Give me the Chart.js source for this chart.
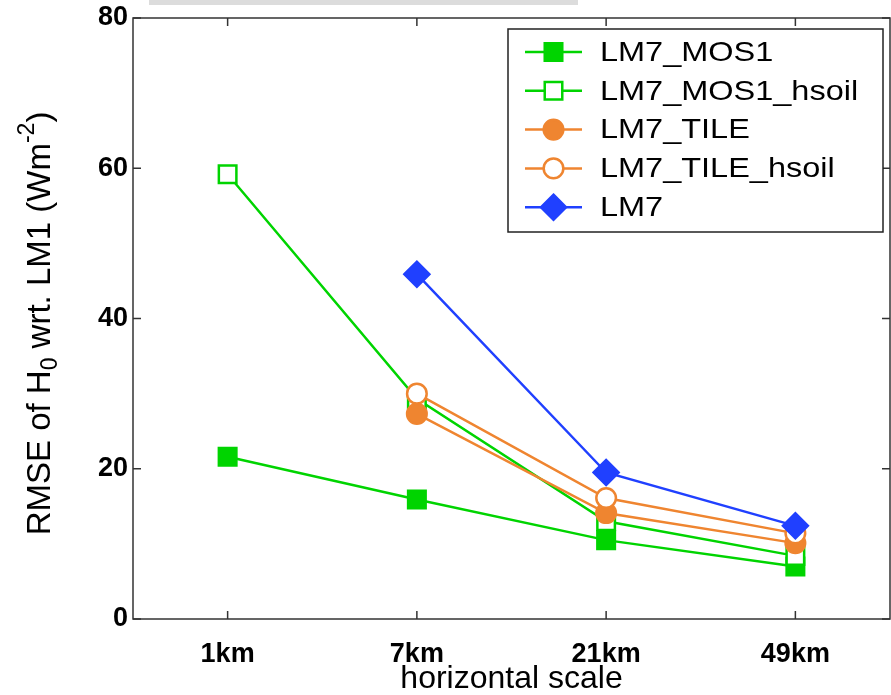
<!DOCTYPE html>
<html>
<head>
<meta charset="utf-8">
<script src="https://cdn.jsdelivr.net/npm/chart.js@4.4.1/dist/chart.umd.min.js"></script>
<style>
  body { margin: 0; background: #fff; }
  #wrap { position: relative; width: 891px; height: 695px; }
  #strip { position: absolute; left: 149px; top: 0; width: 429px; height: 5px; background: #dcdcdc; }
</style>
</head>
<body>
<div id="wrap">
  <canvas id="rmseChart" width="891" height="695"></canvas>
  <div id="strip"></div>
</div>
<script>
// RMSE of H0 wrt. LM1 per horizontal scale
const scales = ['1km', '7km', '21km', '49km'];
const mos1 = [21.6, 15.9, 10.5, 7.0];
const mos1Hsoil = [59.2, 29.3, 13.0, 8.4];
const tile = [null, 27.3, 14.1, 10.1];
const tileHsoil = [null, 30.0, 16.1, 11.4];
const lm7 = [null, 45.9, 19.5, 12.4];
const yTicks = [0, 20, 40, 60, 80];

const FONT = '"Liberation Sans", Arial, Helvetica, sans-serif';
const GREEN = '#00d400';
const ORANGE = '#ef8530';
const BLUE = '#2040ff';

function marker(ctx, style, x, y, r, fill, stroke, lw) {
  ctx.save();
  ctx.beginPath();
  if (style === 'rect') {
    const h = r * Math.SQRT1_2;
    ctx.rect(x - h, y - h, 2 * h, 2 * h);
  } else if (style === 'rectRot') {
    ctx.moveTo(x, y - r); ctx.lineTo(x + r, y); ctx.lineTo(x, y + r); ctx.lineTo(x - r, y);
    ctx.closePath();
  } else {
    ctx.arc(x, y, r, 0, Math.PI * 2);
  }
  ctx.fillStyle = fill;
  ctx.fill();
  ctx.lineWidth = lw;
  ctx.strokeStyle = stroke;
  ctx.stroke();
  ctx.restore();
}

// box round the plot with inward ticks on all four sides
const frame = {
  id: 'frame',
  afterDraw(chart) {
    const { ctx, chartArea: a } = chart;
    const xs = chart.scales.x, ys = chart.scales.y;
    const tl = 8;
    ctx.save();
    ctx.strokeStyle = '#333';
    ctx.lineWidth = 1.5;
    ctx.strokeRect(a.left, a.top, a.right - a.left, a.bottom - a.top);
    ctx.beginPath();
    scales.forEach((s, i) => {
      const px = xs.getPixelForValue(i);
      ctx.moveTo(px, a.bottom); ctx.lineTo(px, a.bottom - tl);
      ctx.moveTo(px, a.top); ctx.lineTo(px, a.top + tl);
    });
    yTicks.forEach(v => {
      const py = ys.getPixelForValue(v);
      ctx.moveTo(a.left, py); ctx.lineTo(a.left + tl, py);
      ctx.moveTo(a.right, py); ctx.lineTo(a.right - tl, py);
    });
    ctx.stroke();
    ctx.restore();
  }
};

// y title with sub/superscript
const yTitle = {
  id: 'yTitle',
  afterDraw(chart) {
    const { ctx, chartArea: a } = chart;
    const parts = [
      { t: 'RMSE of H', s: 33, dy: 0 },
      { t: '0', s: 23, dy: 10 },
      { t: ' wrt. LM1 (Wm', s: 33, dy: 0 },
      { t: '-2', s: 23, dy: -13 },
      { t: ')', s: 33, dy: 0 }
    ];
    ctx.save();
    let total = 0;
    parts.forEach(p => { ctx.font = p.s + 'px ' + FONT; p.w = ctx.measureText(p.t).width; total += p.w; });
    ctx.translate(41, (a.top + a.bottom) / 2 + 5);
    ctx.rotate(-Math.PI / 2);
    ctx.fillStyle = '#000';
    ctx.textBaseline = 'middle';
    let x = -total / 2;
    parts.forEach(p => {
      ctx.font = p.s + 'px ' + FONT;
      ctx.fillText(p.t, x, p.dy);
      x += p.w;
    });
    ctx.restore();
  }
};

// legend box: line sample through marker
const boxLegend = {
  id: 'boxLegend',
  afterDraw(chart) {
    const { ctx, chartArea: a } = chart;
    const left = 508, top = 29, right = a.right - 7, bottom = 232;
    ctx.save();
    ctx.fillStyle = '#fff';
    ctx.fillRect(left, top, right - left, bottom - top);
    ctx.strokeStyle = '#222';
    ctx.lineWidth = 1.5;
    ctx.strokeRect(left, top, right - left, bottom - top);
    chart.data.datasets.forEach((ds, i) => {
      const y = 52 + i * 38.8;
      ctx.strokeStyle = ds.borderColor;
      ctx.lineWidth = ds.borderWidth;
      ctx.beginPath();
      ctx.moveTo(525, y); ctx.lineTo(582, y);
      ctx.stroke();
      marker(ctx, ds.pointStyle, 553.5, y, ds.pointRadius, ds.pointBackgroundColor, ds.borderColor, ds.pointBorderWidth);
      ctx.save();
      ctx.translate(600, y);
      ctx.scale(1.16, 1);
      ctx.font = '28px ' + FONT;
      ctx.fillStyle = '#000';
      ctx.textBaseline = 'middle';
      ctx.fillText(ds.label, 0, 1);
      ctx.restore();
    });
    ctx.restore();
  }
};

function series(label, data, color, style, fill, radius, order) {
  return {
    label: label,
    data: data,
    borderColor: color,
    backgroundColor: color,
    borderWidth: 2.5,
    pointStyle: style,
    pointRadius: radius,
    pointBorderWidth: 2.5,
    pointBackgroundColor: fill,
    pointBorderColor: color,
    tension: 0,
    order: order
  };
}

const ctx = document.getElementById('rmseChart').getContext('2d');
const rmseChart = new Chart(ctx, {
  type: 'line',
  data: {
    labels: scales,
    datasets: [
      series('LM7_MOS1', mos1, GREEN, 'rect', GREEN, 12.4, 5),
      series('LM7_MOS1_hsoil', mos1Hsoil, GREEN, 'rect', '#fff', 12.4, 4),
      series('LM7_TILE', tile, ORANGE, 'circle', ORANGE, 9.8, 3),
      series('LM7_TILE_hsoil', tileHsoil, ORANGE, 'circle', '#fff', 9.8, 2),
      series('LM7', lm7, BLUE, 'rectRot', BLUE, 12.5, 1)
    ]
  },
  options: {
    responsive: false,
    animation: false,
    devicePixelRatio: 1,
    layout: { autoPadding: false, padding: { top: 18, right: 1, left: 0, bottom: 0 } },
    plugins: {
      legend: { display: false },
      tooltip: { enabled: false }
    },
    scales: {
      x: {
        type: 'category',
        offset: true,
        grid: { display: false, drawTicks: false },
        border: { display: false },
        ticks: { color: '#000', font: { family: FONT, size: 27, weight: 'bold' }, padding: 19, maxRotation: 0 },
        title: { display: true, text: 'horizontal scale', color: '#000', font: { family: FONT, size: 32, lineHeight: 1 }, padding: 0 },
        afterFit(scale) {
          scale.height = 76;
          scale.paddingLeft = 0;
          scale.paddingRight = 0;
        }
      },
      y: {
        min: 0,
        max: 80,
        afterBuildTicks(scale) { scale.ticks = yTicks.map(v => ({ value: v })); },
        grid: { display: false, drawTicks: false },
        border: { display: false },
        ticks: { color: '#000', font: { family: FONT, size: 27, weight: 'bold' }, padding: 5 },
        afterFit(scale) {
          scale.width = 133;
          scale.paddingTop = 0;
          scale.paddingBottom = 0;
        }
      }
    }
  },
  plugins: [frame, yTitle, boxLegend]
});
</script>
</body>
</html>
